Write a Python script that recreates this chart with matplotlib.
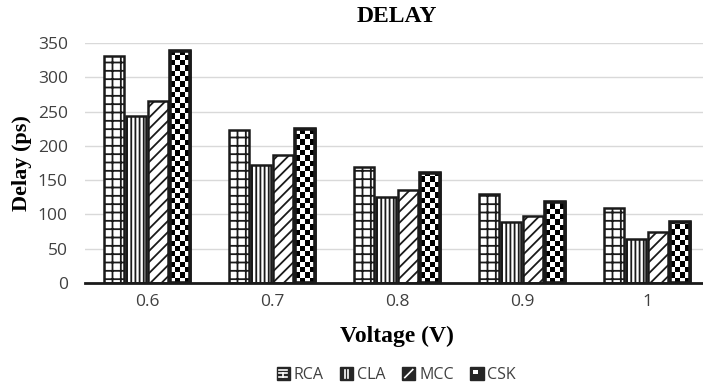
import numpy as np
import matplotlib
matplotlib.use("Agg")
import matplotlib.pyplot as plt
from matplotlib.patches import Patch, Rectangle
from matplotlib.lines import Line2D
from matplotlib.legend_handler import HandlerBase

categories = ["0.6", "0.7", "0.8", "0.9", "1"]
series_names = ["RCA", "CLA", "MCC", "CSK"]
rca = [331, 223, 169, 130, 109]
cla = [243, 172, 125, 89, 64]
mcc = [265, 186, 135, 98, 74]
csk = [338, 225, 161, 118, 89]
yticks = [0, 50, 100, 150, 200, 250, 300, 350]

plt.rcParams['hatch.linewidth'] = 1.3
fig = plt.figure(figsize=(7.03, 3.89), dpi=100)
ax = fig.add_axes([84.5/703, 106/389, 625/703, 240/389])

x = np.arange(len(categories))
pitch = 0.178
width = 0.16
hatches = ['--||', '||||', '///', None]
values = [rca, cla, mcc, csk]
EDGE = '#1a1a1a'
bar_groups = []
for i, (vals, h) in enumerate(zip(values, hatches)):
    off = (i - 1.5) * pitch
    if h is None:
        bars = ax.bar(x + off, vals, width, facecolor='black', edgecolor=EDGE,
                      linewidth=1.8, zorder=3)
    else:
        bars = ax.bar(x + off, vals, width, facecolor='white', edgecolor=EDGE,
                      hatch=h, linewidth=1.8, zorder=3)
    bar_groups.append(bars)

# checkerboard pattern for CSK bars
px_per_unit = 240 / 350
for bar in bar_groups[3]:
    x0, w, h = bar.get_x(), bar.get_width(), bar.get_height()
    ncols = 4
    sy = 5.3 / px_per_unit
    nrows = int(np.ceil(h / sy))
    ii, jj = np.indices((nrows, ncols))
    pat = ((ii + jj) % 2).astype(float)
    im = ax.imshow(pat, cmap='gray_r', vmin=0, vmax=1, extent=[x0, x0 + w, 0, nrows * sy],
                   origin='lower', interpolation='nearest', aspect='auto', zorder=3.5)
    im.set_clip_path(bar)
    ax.bar(x0 + w / 2, h, w, facecolor='none', edgecolor=EDGE, linewidth=2.6, zorder=4)

ax.set_xlim(-0.5, len(categories) - 0.5)
ax.set_ylim(0, 350)
ax.set_yticks(yticks)
ax.set_xticks(x)
ax.set_xticklabels(categories)
ax.grid(axis='y', color='#d9d9d9', linewidth=1, zorder=0)
ax.set_axisbelow(True)
for s in ['top', 'right', 'left']:
    ax.spines[s].set_visible(False)
ax.spines['bottom'].set_color(EDGE)
ax.spines['bottom'].set_linewidth(2)
ax.spines['bottom'].set_zorder(5)
ax.tick_params(axis='both', length=0, labelsize=12.5, labelcolor='#404040')
ax.tick_params(axis='y', pad=12)
ax.tick_params(axis='x', pad=8)
for lab in ax.get_xticklabels() + ax.get_yticklabels():
    lab.set_fontfamily('Open Sans')

serif = dict(fontfamily='Liberation Serif', fontweight='bold', fontsize=17)
ax.set_title('DELAY', pad=15, **serif)
ax.set_xlabel('Voltage (V)', labelpad=11, **serif)
ax.set_ylabel('Delay (ps)', labelpad=4, **{**serif, 'fontsize': 16})


class IconHandler(HandlerBase):
    def __init__(self, kind):
        super().__init__()
        self.kind = kind

    def create_artists(self, legend, orig_handle, xdescent, ydescent, width, height,
                       fontsize, trans):
        s = min(width, height)
        x0 = -xdescent + (width - s) / 2
        y0 = -ydescent + (height - s) / 2
        arts = [Rectangle((x0, y0), s, s, facecolor='#262626', edgecolor='#262626',
                          transform=trans)]
        lw = 1.2
        def ln(xs, ys):
            arts.append(Line2D([x0 + a * s for a in xs], [y0 + b * s for b in ys],
                               color='white', lw=lw, transform=trans))
        if self.kind == 0:
            ln([0.2, 0.8], [0.55, 0.55]); ln([0.2, 0.8], [0.25, 0.25]); ln([0.5, 0.5], [0.25, 0.55])
            ln([0.2, 0.8], [0.75, 0.75])
        elif self.kind == 1:
            ln([0.38, 0.38], [0.2, 0.8]); ln([0.62, 0.62], [0.2, 0.8])
        elif self.kind == 2:
            ln([0.2, 0.8], [0.2, 0.8])
        else:
            arts.append(Rectangle((x0 + 0.2 * s, y0 + 0.45 * s), 0.35 * s, 0.35 * s,
                                  facecolor='white', edgecolor='none', transform=trans))
        return arts


handles = [Patch(label=n) for n in series_names]
leg = fig.legend(handles, series_names, loc='center', bbox_to_anchor=(396/703, 1 - 375/389),
                 ncol=4, frameon=False, handlelength=0.9, handleheight=0.9,
                 handletextpad=0.2, columnspacing=1.0, prop={'family': 'Open Sans', 'size': 11.5},
                 handler_map={h: IconHandler(i) for i, h in enumerate(handles)})
for t in leg.get_texts():
    t.set_color('#404040')

fig.savefig('out.png', dpi=100)
